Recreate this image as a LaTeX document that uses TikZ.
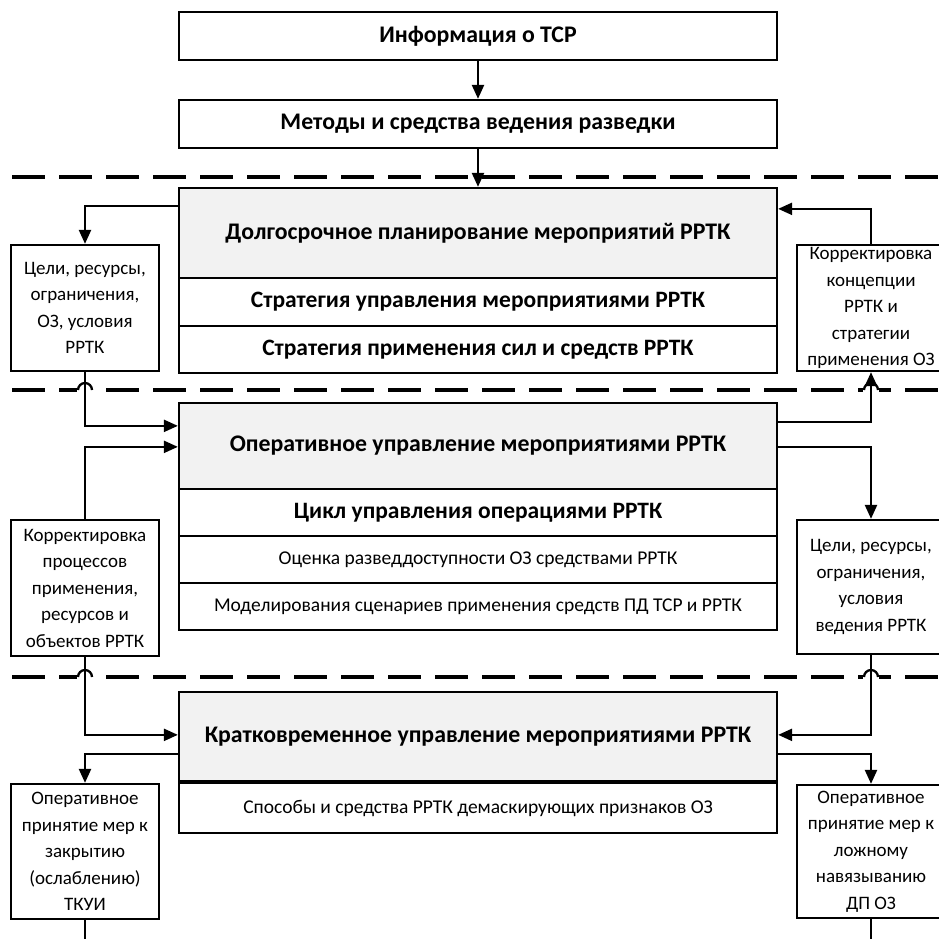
\documentclass[tikz,border=0pt]{standalone}
\usepackage{fontspec}
\setmainfont{Carlito}
\usetikzlibrary{arrows.meta,calc}
\definecolor{hdrgray}{HTML}{F2F2F2}
\begin{document}
\begin{tikzpicture}[x=1pt,y=-1pt,
  box/.style={draw=black, line width=2.3pt, rectangle, inner sep=0pt, align=center, text=black},
  hdr/.style={box, fill=hdrgray, minimum width=598pt, font=\bfseries\fontsize{23.8}{27}\selectfont},
  rowb/.style={box, fill=white, minimum width=598pt, font=\bfseries\fontsize{23.5}{27}\selectfont},
  rows/.style={box, fill=white, minimum width=598pt, font=\fontsize{19.5}{22}\selectfont},
  side/.style={box, fill=white, minimum width=148pt, font=\fontsize{19}{26.5}\selectfont},
  conn/.style={line width=2.3pt, -{Triangle[length=14pt,width=12pt]}},
  plainc/.style={line width=2.3pt},
  sep/.style={line width=4pt, dash pattern=on 33pt off 14pt, dash phase=-12pt},
  hop/.style={line width=2.3pt},
]
\useasboundingbox (0,0) rectangle (939,938);
\clip (0,0) rectangle (939,938);

% separators
\draw[sep] (0,177) -- (939,177);
\draw[sep] (0,390) -- (939,390);
\draw[sep] (0,677) -- (939,677);
\foreach \hx/\hy in {85/390, 871/390, 85/677, 871/677}{
  \fill[white] (\hx-8,\hy-4) rectangle (\hx+8,\hy+4);
  \draw[hop] (\hx-7,\hy) arc (180:360:7);
}

% main column
\node[hdr, fill=white, minimum height=48pt] (info) at (478,36) {Информация о ТСР};
\node[hdr, fill=white, minimum height=48pt] (meth) at (478,124) {Методы и средства ведения разведки};

\node[hdr, minimum height=90pt] (h1) at (478,233) {Долгосрочное планирование мероприятий РРТК};
\node[rowb, minimum height=48pt] (s1) at (478,302) {Стратегия управления мероприятиями РРТК};
\node[rowb, minimum height=47pt] (s2) at (478,349.5) {Стратегия применения сил и средств РРТК};

\node[hdr, minimum height=86pt] (h2) at (478,446) {Оперативное управление мероприятиями РРТК};
\node[rowb, minimum height=47pt] (c1) at (478,512.5) {Цикл управления операциями РРТК};
\node[rows, minimum height=47pt] (c2) at (478,559.5) {Оценка разведдоступности ОЗ средствами РРТК};
\node[rows, minimum height=47pt] (c3) at (478,606.5) {Моделирования сценариев применения средств ПД ТСР и РРТК};

\node[hdr, minimum height=89pt] (h3) at (478,736.5) {Кратковременное управление мероприятиями РРТК};
\node[rows, minimum height=50pt] (k1) at (478,808) {Способы и средства РРТК демаскирующих признаков ОЗ};

% side boxes
\node[side, minimum height=126pt] (L1) at (85,308) {Цели, ресурсы,\\ограничения,\\ОЗ, условия\\РРТК};
\node[side, minimum height=126pt] (R1) at (871,308) {Корректировка\\концепции\\РРТК и\\стратегии\\применения ОЗ};
\node[side, minimum height=136pt] (L2) at (85,588) {Корректировка\\процессов\\применения,\\ресурсов и\\объектов РРТК};
\node[side, minimum height=134pt] (R2) at (871,587) {Цели, ресурсы,\\ограничения,\\условия\\ведения РРТК};
\node[side, minimum height=135pt] (L3) at (85,851.5) {Оперативное\\принятие мер к\\закрытию\\(ослаблению)\\ТКУИ};
\node[side, minimum height=133pt] (R3) at (871,851.5) {Оперативное\\принятие мер к\\ложному\\навязыванию\\ДП ОЗ};

\coordinate (Lend) at (85,945);
\coordinate (Rend) at (871,945);

% connectors
\draw[conn] (info.south) -- (meth.north);
\draw[conn] (meth.south) -- (h1.north);
\draw[conn] ([yshift=-19pt]h1.north west) -| (L1.north);
\draw[conn] (R1.north) |- ([yshift=-22pt]h1.north east);
\draw[conn] (L1.south) |- ([yshift=-24pt]h2.north west);
\draw[conn] (L2.north) |- ([yshift=-45pt]h2.north west);
\draw[conn] ([yshift=-20pt]h2.north east) -| (R1.south);
\draw[conn] ([yshift=-45pt]h2.north east) -| (R2.north);
\draw[conn] (L2.south) |- ([yshift=-44pt]h3.north west);
\draw[conn] (R2.south) |- ([yshift=-44pt]h3.north east);
\draw[conn] ([yshift=-63pt]h3.north west) -| (L3.north);
\draw[conn] ([yshift=-63pt]h3.north east) -| (R3.north);
\draw[plainc] (L3.south) -- (Lend);
\draw[plainc] (R3.south) -- (Rend);
\end{tikzpicture}
\end{document}
